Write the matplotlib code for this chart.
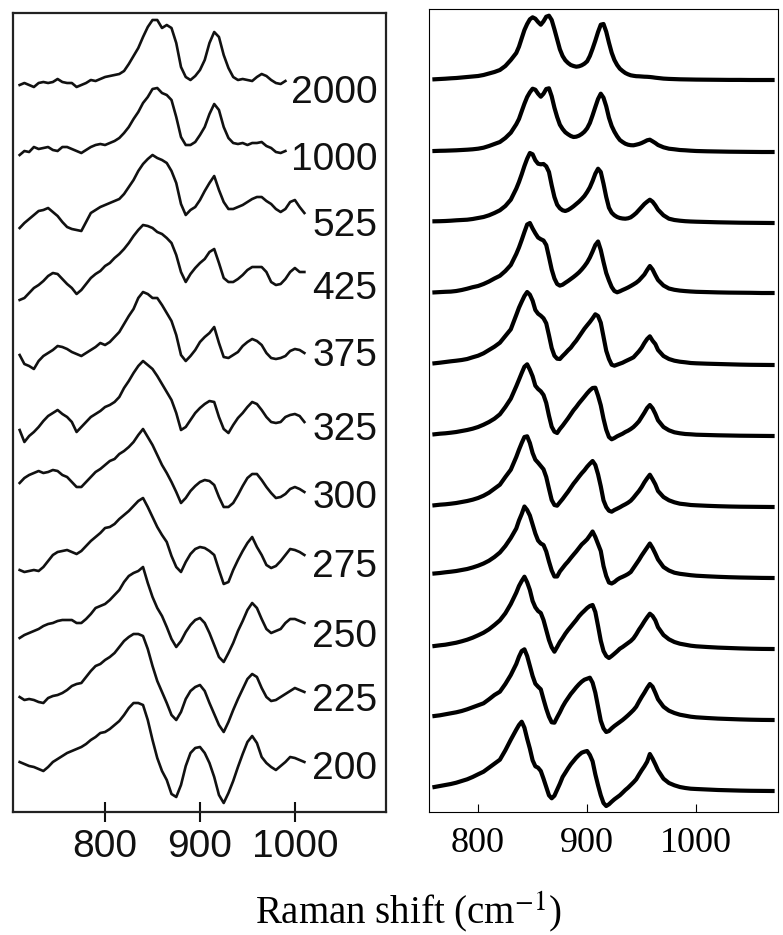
import numpy as np
import matplotlib
matplotlib.use('Agg')
import matplotlib.pyplot as plt

plt.rcParams['mathtext.fontset'] = 'stix'

# ---- measured spectra (left panel), intensity in a.u. above each trace's baseline ----
exp_shift = np.arange(710, 1011, 5)   # cm-1 sampling grid
exp_labels = ['2000', '1000', '525', '425', '375', '325', '300', '275', '250', '225', '200']
exp_offsets = [723, 656, 590, 527, 460, 386, 318, 249, 179, 115, 47]

exp_2000 = [4, 6, 4, 2, 6, 7, 6, 7, 10, 7, 6, 6, 2, 4, 6, 9, 8, 10, 12, 13, 14, 15, 18, 25, 33,
            41, 52, 62, 69, 69, 61, 64, 61, 46, 22, 12, 9, 13, 19, 29, 46, 57, 52, 34, 21, 12,
            9, 10, 9, 8, 12, 15, 13, 9, 6, 5, 8]
exp_1000 = [1, 5, 4, 9, 7, 8, 9, 6, 5, 9, 9, 7, 5, 3, 6, 9, 11, 12, 11, 13, 15, 18, 23, 29, 37,
            44, 53, 59, 67, 68, 63, 61, 56, 39, 19, 11, 11, 14, 21, 29, 42, 52, 46, 29, 18, 13,
            12, 13, 11, 13, 13, 14, 10, 8, 4, 3, 5]
exp_525 = [-6, -1, 3, 7, 11, 12, 14, 10, 6, 0, -5, -7, -8, -9, 0, 9, 12, 15, 17, 19, 21, 23, 28,
           35, 42, 51, 58, 63, 67, 64, 62, 59, 51, 39, 18, 7, 12, 15, 22, 31, 39, 46, 32, 20, 13,
           13, 15, 17, 20, 23, 25, 25, 21, 18, 13, 10, 13, 20, 22, 15, 9]
exp_425 = [-15, -13, -8, -3, 0, 4, 9, 12, 11, 6, 1, -3, -9, -5, 1, 7, 11, 14, 19, 22, 27, 31, 36,
           42, 49, 55, 60, 59, 57, 53, 51, 47, 42, 30, 13, 3, 11, 17, 22, 26, 33, 36, 22, 7, 3,
           3, 6, 10, 15, 18, 18, 18, 13, 3, 0, 1, 6, 13, 17, 13, 13]
exp_375 = [-3, -12, -14, -17, -9, -4, -1, 2, 6, 5, 3, 0, -2, -4, -1, 2, 5, 9, 7, 10, 15, 20, 28,
           36, 43, 54, 60, 58, 54, 54, 47, 39, 31, 17, -3, -9, -4, 2, 10, 15, 19, 25, 9, -5, -6,
           -3, 0, 6, 10, 13, 11, 7, -1, -6, -7, -6, -4, 1, 3, 2, -1]
exp_325 = [-4, -16, -10, -6, -1, 5, 10, 13, 16, 12, 9, 4, -6, -1, 4, 9, 12, 15, 19, 21, 24, 29, 38,
           45, 53, 60, 65, 61, 57, 50, 42, 34, 26, 13, -4, -1, 6, 13, 18, 22, 25, 24, 9, -3, -7,
           1, 8, 13, 19, 24, 22, 16, 9, 4, 3, 4, 9, 11, 12, 10, 4]
exp_300 = [11, 16, 19, 21, 23, 21, 22, 24, 23, 19, 17, 12, 7, 7, 12, 17, 22, 25, 29, 33, 35, 40,
           43, 47, 52, 59, 65, 57, 49, 39, 29, 21, 12, 2, -9, -4, 3, 8, 12, 14, 13, 9, -3, -13,
           -13, -9, -1, 8, 16, 20, 20, 14, 7, 1, -4, -3, 0, 5, 7, 5, 2]
exp_275 = [-7, -9, -8, -7, -8, -4, 2, 8, 11, 12, 13, 11, 9, 12, 17, 22, 26, 30, 35, 36, 39, 44,
           48, 52, 57, 62, 65, 56, 46, 36, 28, 21, 7, -4, -9, 1, 9, 14, 16, 15, 12, 8, -7, -21,
           -19, -7, 3, 12, 20, 26, 16, 8, -2, -5, -3, 2, 8, 14, 13, 11, 8]
exp_250 = [-5, -2, 0, 2, 4, 7, 9, 10, 12, 13, 13, 13, 10, 10, 14, 19, 25, 27, 29, 33, 38, 43, 51,
           57, 60, 62, 66, 50, 36, 25, 17, 6, -6, -14, -8, 1, 8, 13, 15, 10, 0, -12, -24, -29,
           -20, -10, 2, 12, 23, 30, 25, 14, 4, 0, 2, 4, 10, 14, 14, 12, 10]
exp_225 = [0, -3, -2, -3, -5, -6, -1, 1, 2, 4, 7, 11, 13, 14, 20, 26, 31, 33, 37, 40, 44, 50, 56,
           60, 63, 63, 61, 48, 31, 16, 5, -6, -18, -23, -15, -2, 6, 10, 12, 6, -6, -17, -28, -35,
           -25, -13, -2, 8, 18, 23, 20, 9, 0, -4, -3, 0, 3, 6, 9, 7, 5]
exp_200 = [3, 1, -1, -2, -4, -6, -2, 3, 6, 9, 12, 14, 16, 18, 21, 25, 28, 32, 33, 36, 40, 44, 50,
           57, 62, 62, 60, 45, 25, 7, -6, -15, -29, -32, -20, -1, 12, 17, 18, 12, 2, -12, -30,
           -38, -28, -16, -2, 11, 23, 29, 22, 8, 2, -2, -5, -1, 3, 8, 7, 5, 3]

# ---- simulated spectra (right panel) ----
# sampling: 5 cm-1 in the wings, 2.5 cm-1 across the bands, 10 cm-1 in the flat tail
sim_shift = np.concatenate([np.arange(760, 836, 5), np.arange(837.5, 966, 2.5),
                            np.arange(970, 1001, 5), np.arange(1010, 1071, 10)])
sim_offsets = [732, 660, 589, 519, 447, 376, 305, 234, 163, 92, 21]

sim_2000 = [0.7, 1, 1.3, 1.7, 2, 2.5, 3, 3.5, 4, 5, 6.5, 8, 10, 14, 20, 27,
            33.3, 41.7, 50, 56, 60.7, 62.7, 61.3, 58, 55.3, 58.7,
            63.3, 64.3, 60, 50.7, 40.7, 30.7, 24, 19.7, 17, 15,
            14, 13.3, 13.7, 14.7, 16.3, 18.7, 24, 31.3, 39.3, 48,
            55.3, 56, 48.3, 37.3, 27.3, 20, 15, 11.3, 9, 7,
            5.7, 4.7, 4.2, 3.8, 3.7, 3.5, 3.3, 3.2, 3, 2.7, 2.3, 2,
            1.4, 1.1, 0.9, 0.7, 0.6, 0.5, 0.4, 0.3, 0.2, 0.1, 0.1, 0, 0, 0]
sim_1000 = [1, 1.2, 1.3, 1.5, 1.7, 2, 2.3, 2.7, 3.3, 4.3, 6, 8, 10, 14, 19.3, 27.7,
            33, 40.7, 48.3, 55, 59.7, 63.3, 62.3, 58.3, 55.3, 58.3,
            63, 63.7, 55.7, 44.3, 35, 27.3, 23, 19.7, 17.7, 16,
            15, 15.3, 16.3, 18, 20.3, 23.7, 29, 36.7, 45, 53,
            58.3, 54.3, 45.7, 34.3, 26, 20.3, 15.7, 12, 10, 8.3,
            7.3, 6.8, 6.7, 7.3, 8, 9, 10.3, 11.7, 12.3, 10.7, 9, 7,
            4.7, 3.3, 2.7, 2, 1.7, 1.3, 1, 0.7, 0.5, 0.3, 0.2, 0.1, 0, 0]
sim_525 = [1.7, 1.8, 2, 2.3, 2.7, 3, 3.3, 4, 5, 6, 7.7, 10, 12.7, 17, 23.3, 34.3,
           41, 48.7, 57, 64.3, 70, 68.7, 62.7, 59.3, 58.7, 59,
           56.7, 51, 37.7, 26, 18.3, 14.7, 12.7, 12, 13, 14.7,
           16.7, 19, 21.3, 24, 27, 31, 35.7, 42, 49.3, 54.3,
           51, 39.3, 26, 15.3, 10.3, 7.7, 6, 5, 4.5, 4.3,
           4.7, 5.7, 7.7, 10, 13, 16, 19, 21.3, 23.3, 21.3, 17.7, 13.3,
           7.7, 4.3, 3, 2.3, 1.8, 1.5, 1.3, 1, 0.7, 0.5, 0.3, 0.2, 0.1, 0]
sim_425 = [0.6, 0.9, 1.2, 1.4, 2, 3, 4.3, 5.8, 7, 9, 11.5, 14.5, 17.2, 22, 28, 39,
           45.5, 53, 61, 68.5, 70, 64.5, 59.7, 55.5, 53.8, 52.5,
           48, 36, 23.5, 14.5, 9, 7.4, 8.3, 10.2, 12, 14,
           16, 18.2, 20.6, 23.5, 26.8, 30.6, 35.5, 41.5, 48, 51.5,
           43, 31, 20, 12.5, 6, 2, 0.7, 1.7, 3, 4.2,
           5.5, 7, 8.6, 10.3, 12.5, 15.5, 18.5, 23, 27, 23.5, 18, 13,
           7.5, 4.5, 3.2, 2.4, 1.9, 1.5, 1.2, 0.9, 0.6, 0.4, 0.3, 0.2, 0, 0]
sim_375 = [1.7, 2.3, 3, 3.7, 4.3, 5, 6, 7.7, 9.3, 11.7, 15, 18.3, 22.3, 29, 35.7, 50,
           57.3, 63.3, 69, 73, 70.3, 64.3, 55, 51.3, 49.3, 46.7,
           41.7, 29.7, 17, 9.3, 6.3, 6, 9, 11.7, 14.7, 17.3,
           21, 24.3, 28.3, 32.3, 36.3, 39.7, 43, 46.7, 50.7, 49,
           42.3, 28.3, 14.3, 6, 0.3, -0.7, 0.3, 1.3, 2.3, 3.7,
           5, 6.3, 7.7, 10.7, 13.7, 17.3, 22, 26, 28.7, 24.3, 21, 15,
           9, 6, 4.3, 3.3, 2.7, 2, 1.7, 1.3, 1, 0.7, 0.4, 0.2, 0.1, 0]
sim_325 = [1.7, 2.3, 2.7, 3.3, 4, 5, 6, 7.3, 9, 11.3, 14, 17.3, 21.7, 29, 37.3, 49.7,
           56.3, 63, 69.3, 71.7, 66.3, 59.7, 50.3, 47, 44.7, 41,
           33, 20.3, 9.3, 4.3, 3, 7, 10.3, 14, 17.7, 21.7,
           25.7, 29, 32.7, 36, 39.3, 42.7, 45.7, 48, 48.3, 40.3,
           30.7, 17.3, 6.3, -1, -3.3, -2, -0.3, 1, 2.3, 4,
           5.3, 7, 9, 11.7, 14.7, 19, 23.3, 28, 31, 27.7, 22.3, 15.7,
           9, 5.7, 3.7, 2.7, 2, 1.7, 1.3, 1, 0.7, 0.5, 0.3, 0.2, 0.1, 0]
sim_300 = [1.7, 2.3, 2.7, 3.3, 4, 5, 6, 7.3, 9, 11.3, 14.3, 18.3, 22.3, 30, 37.3, 50,
           57.3, 64, 70, 70.7, 64, 54, 47.3, 44.3, 41, 37.7,
           30, 18.3, 7, 2, 1.3, 4.7, 8, 11.7, 15.3, 19.3,
           23.3, 26.7, 30.3, 33.7, 36.7, 40.3, 43.3, 46, 42, 32.7,
           20.7, 6.7, 0, -3.7, -4.7, -3, -1.7, -0.3, 1.3, 2.7,
           4.3, 6.3, 9.3, 12.7, 16, 20, 24.7, 28.7, 32.3, 27.7, 22.7, 16,
           10, 6.7, 4.7, 3.3, 2.7, 2, 1.7, 1.2, 0.8, 0.5, 0.3, 0.2, 0.1, 0]
sim_275 = [4.5, 5, 5.7, 6.3, 7, 8, 9, 10.5, 12.3, 14.5, 17.3, 21, 25.5, 32, 40, 49.5,
           57.5, 64, 71.5, 68, 62.5, 53.5, 44.5, 37.5, 34.5, 33,
           26.5, 16.5, 7.5, 1.5, 1.5, 6.5, 10, 13.5, 16.5, 20,
           23.3, 26.5, 30, 33.5, 36, 38.7, 42.5, 46.5, 41, 34,
           27, 12, 2, -4.5, -5.5, -4, -1.7, 0, 1.2, 2.5,
           4, 6, 10, 14, 18, 22.5, 26.5, 30.5, 34.5, 30, 24.5, 18.5,
           11, 7.5, 5.3, 4.2, 3.5, 2.8, 2.3, 1.7, 1.2, 0.8, 0.5, 0.3, 0.1, 0]
sim_250 = [3, 3.7, 4.3, 5.3, 6.3, 7.7, 9.3, 11.3, 13.7, 16.3, 19.7, 24, 28.7, 35.7, 45, 56.3,
           63, 68, 72.3, 66.7, 59, 48, 41.7, 38, 36, 29,
           19, 9, 1.7, -2.7, 2, 7, 11, 15.3, 19, 22.3,
           25.7, 29, 32.7, 35.7, 38.3, 41, 43, 44, 37, 23,
           8.3, -2, -7, -9, -7, -4.7, -2.3, 0.3, 2, 4,
           6, 8, 10.7, 14.7, 19.3, 23.3, 27.7, 31.7, 35.3, 33, 28.7, 21.7,
           14, 9.7, 7, 5.3, 4.3, 3.3, 2.7, 2, 1.4, 1, 0.6, 0.3, 0.1, 0]
sim_225 = [4, 4.7, 5.7, 6.7, 7.7, 9, 10.7, 12.7, 14.7, 16.7, 20.7, 25, 28.3, 36, 45, 56,
           63.3, 69, 70.7, 64, 54, 44, 36.3, 33.3, 30.7, 20.7,
           11.3, 3.3, -2.3, -2.7, 2.7, 7.7, 13.3, 18, 22, 26,
           29.3, 32.7, 35.7, 38.3, 40.3, 41.3, 42.3, 37.3, 27.3, 13.3,
           -0.7, -8.3, -12, -11, -8.3, -6, -4, -2, 0, 2.3,
           4.7, 7.3, 10, 13.3, 18.3, 23, 27.3, 32, 36, 33.3, 27.3, 20.7,
           13.3, 9.3, 7, 5.3, 4.3, 3.3, 2.7, 2, 1.4, 1, 0.6, 0.3, 0.1, 0]
sim_200 = [4, 5, 6, 7, 8.3, 10, 11.7, 14, 16.7, 19.3, 23.3, 27.3, 31.3, 40.7, 51.3, 61.3,
           66, 69.3, 63.3, 52.3, 42.3, 30.7, 24.7, 23.3, 20, 12.3,
           4, -4.3, -7.3, -4.7, 1.3, 7.3, 14, 18.3, 22.7, 26.7,
           30, 33.3, 36, 38.3, 39.3, 40, 36, 29.7, 16.7, 5.7,
           -4.3, -12, -15, -13.3, -10.7, -8.3, -6.3, -4.3, -1.7, 1,
           3.3, 6, 8.7, 11.7, 16.3, 20.7, 24.7, 29.3, 37, 32.3, 26.7, 20.7,
           12.3, 8, 5.7, 4, 3, 2.3, 2, 1.5, 1, 0.7, 0.4, 0.2, 0.1, 0]

exp_traces = [exp_2000, exp_1000, exp_525, exp_425, exp_375, exp_325,
              exp_300, exp_275, exp_250, exp_225, exp_200]
sim_traces = [sim_2000, sim_1000, sim_525, sim_425, sim_375, sim_325,
              sim_300, sim_275, sim_250, sim_225, sim_200]


def main():
    fig = plt.figure(figsize=(7.83, 9.35), dpi=100)
    ax_exp = fig.add_axes([13 / 783, 1 - 812 / 935, 373 / 783, 799 / 935])
    ax_sim = fig.add_axes([429 / 783, 1 - 812 / 935, 349 / 783, 803 / 935])

    # Left: measured spectra with labels
    for name, offset, trace in zip(exp_labels, exp_offsets, exp_traces):
        y = offset + np.array(trace, dtype=float)
        ax_exp.plot(exp_shift[:len(trace)], y, color='#111111', lw=1.9,
                    solid_joinstyle='round')
        ax_exp.text(1087, offset - 14, name, ha='right', va='baseline',
                    fontsize=28, family='Liberation Sans', color='#111111')

    ax_exp.set_xlim(703, 1096)
    ax_exp.set_ylim(0, 799)
    ax_exp.set_yticks([])
    ax_exp.set_xticks([800, 900, 1000])
    ax_exp.tick_params(axis='x', direction='inout', length=14, width=1.5, pad=5,
                       labelsize=28, colors='#111111')
    for lab in ax_exp.get_xticklabels():
        lab.set_family('Liberation Sans')
    for s in ax_exp.spines.values():
        s.set_linewidth(1.6)
        s.set_color('#222222')

    # Right: simulated spectra
    for offset, trace in zip(sim_offsets, sim_traces):
        ax_sim.plot(sim_shift, offset + np.array(trace, dtype=float), color='black',
                    lw=3.0, solid_joinstyle='round')

    ax_sim.set_xlim(755, 1075)
    ax_sim.set_ylim(0, 803)
    ax_sim.set_yticks([])
    ax_sim.set_xticks([800, 900, 1000])
    ax_sim.tick_params(axis='x', direction='in', length=6, width=0.8, pad=11,
                       labelsize=26)
    for lab in ax_sim.get_xticklabels():
        lab.set_family('Liberation Serif')
    for s in ax_sim.spines.values():
        s.set_linewidth(0.8)

    fig.text(408 / 783, 1 - 912 / 935, 'Raman shift (cm$^{-1}$)', ha='center',
             va='center', fontsize=28, family='Liberation Serif')

    fig.savefig('out.png', dpi=100)


if __name__ == "__main__":
    main()
